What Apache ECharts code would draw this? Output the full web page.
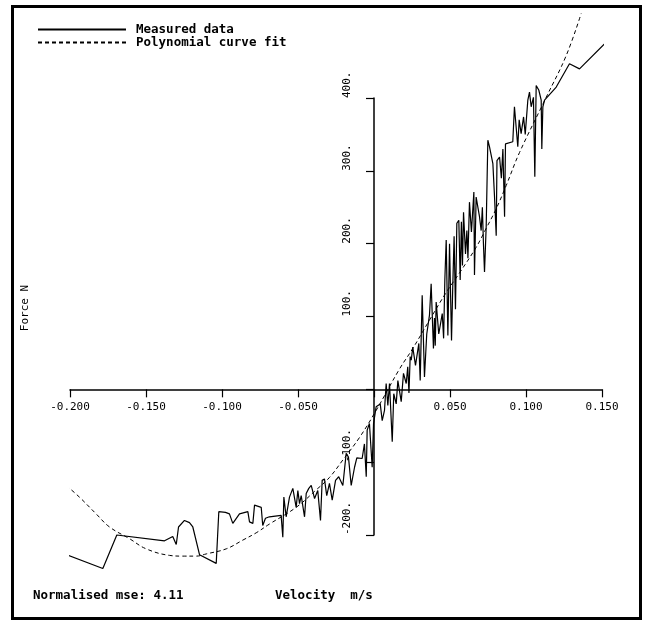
<!DOCTYPE html>
<html>
<head>
<meta charset="utf-8">
<script src="https://cdn.jsdelivr.net/npm/echarts@6/dist/echarts.min.js"></script>
<style>
  html, body { margin: 0; padding: 0; background: #fff; }
  #chart { width: 650px; height: 622px; }
</style>
</head>
<body>
<div id="chart"></div>
<script>
// Measured force-velocity record (velocity in m/s, force in N)
const measuredVelocity = [
  -0.2025, -0.1784, -0.1692, -0.1378, -0.1324, -0.1301, -0.1286, -0.1247, -0.1214, -0.1192,
  -0.1148, -0.1038, -0.1021, -0.0977, -0.0951, -0.0929, -0.0885, -0.0830, -0.0819, -0.0797,
  -0.0786, -0.0775, -0.0742, -0.0732, -0.0714, -0.0688, -0.0611, -0.0600, -0.0593, -0.0578,
  -0.0556, -0.0534, -0.0512, -0.0501, -0.0490, -0.0479, -0.0457, -0.0446, -0.0429, -0.0413,
  -0.0391, -0.0370, -0.0352, -0.0341, -0.0326, -0.0311, -0.0293, -0.0275, -0.0253, -0.0232,
  -0.0205, -0.0183, -0.0168, -0.0150, -0.0128, -0.0113, -0.0078, -0.0063, -0.0051, -0.0045,
  -0.0030, -0.0012, -0.0003, 0.0014, 0.0041, 0.0054, 0.0069, 0.0080, 0.0091, 0.0102,
  0.0120, 0.0130, 0.0146, 0.0157, 0.0179, 0.0194, 0.0212, 0.0222, 0.0230, 0.0238,
  0.0245, 0.0255, 0.0273, 0.0295, 0.0304, 0.0317, 0.0332, 0.0347, 0.0365, 0.0376,
  0.0391, 0.0398, 0.0403, 0.0409, 0.0426, 0.0449, 0.0458, 0.0466, 0.0475, 0.0486,
  0.0497, 0.0510, 0.0518, 0.0527, 0.0536, 0.0545, 0.0558, 0.0567, 0.0575, 0.0582,
  0.0589, 0.0602, 0.0611, 0.0618, 0.0628, 0.0641, 0.0657, 0.0661, 0.0672, 0.0694,
  0.0705, 0.0713, 0.0720, 0.0727, 0.0738, 0.0749, 0.0760, 0.0782, 0.0793, 0.0804,
  0.0809, 0.0826, 0.0838, 0.0848, 0.0859, 0.0865, 0.0913, 0.0924, 0.0946, 0.0955,
  0.0968, 0.0984, 0.0995, 0.1012, 0.1023, 0.1034, 0.1049, 0.1058, 0.1067, 0.1084,
  0.1100, 0.1104, 0.1111, 0.1122, 0.1199, 0.1286, 0.1352, 0.1582
];
const measuredForce = [
  -227, -246, -200, -208, -202, -213, -189, -180, -183, -189,
  -227, -239, -168, -169, -171, -184, -171, -168, -182, -184,
  -159, -161, -162, -187, -177, -175, -173, -203, -148, -175,
  -148, -136, -162, -139, -157, -146, -175, -143, -136, -132,
  -150, -139, -180, -125, -123, -146, -129, -152, -125, -120,
  -132, -88, -93, -132, -107, -94, -95, -75, -120, -56,
  -47, -107, -47, -24, -20, -43, -29, 8, -22, 8,
  -72, -6, -20, 12, -17, 22, 8, 31, -5, 45,
  40, 58, 33, 63, 12, 129, 17, 76, 102, 145,
  56, 98, 60, 120, 76, 104, 70, 150, 205, 74,
  200, 67, 140, 210, 110, 228, 232, 150, 230, 170,
  243, 186, 218, 180, 257, 216, 271, 157, 264, 237,
  218, 250, 200, 161, 223, 342, 333, 310, 264, 211,
  314, 319, 290, 330, 237, 337, 340, 388, 333, 370,
  351, 374, 350, 397, 408, 388, 401, 292, 417, 411,
  397, 330, 388, 397, 415, 447, 440, 488
];

// Polynomial curve fit through the same record
const fitVelocity = [
  -0.2025, -0.1938, -0.1828, -0.1740, -0.1609, -0.1499, -0.1345, -0.1258, -0.1170, -0.1104,
  -0.0972, -0.0863, -0.0775, -0.0688, -0.0512, -0.0380, -0.0293, -0.0205, -0.0095, 0.0014,
  0.0168, 0.0255, 0.0365, 0.0475, 0.0563, 0.0672, 0.0738, 0.0804, 0.0870, 0.0957,
  0.1133, 0.1264, 0.1363
];
const fitForce = [
  -132, -148, -171, -189, -205, -219, -228, -229, -229, -226,
  -219, -207, -197, -185, -162, -138, -121, -97, -66, -29,
  28, 56, 95, 133, 160, 195, 221, 248, 280, 325,
  401, 458, 516
];

const seriesNames = ['Measured data', 'Polynomial curve fit'];
const mseText = 'Normalised mse: 4.11';
const xTitle = 'Velocity  m/s';
const yTitle = 'Force N';

const FONT = 'DejaVu Sans Mono';

// Axis ranges
const X_MIN = -0.2, X_MAX = 0.15, X_STEP = 0.05;
const Y_MIN = -200, Y_MAX = 400, Y_STEP = 100;

// Plot box
const GRID = { left: 70, top: 98, width: 532, height: 437 };

// Both axes cross at the origin: shift them inward from the grid edges
const yAxisShift = -GRID.width * (0 - X_MIN) / (X_MAX - X_MIN);
const xAxisShift = -GRID.height * (0 - Y_MIN) / (Y_MAX - Y_MIN);

const pairs = (xs, ys) => xs.map((x, i) => [x, ys[i]]);

const chart = echarts.init(document.getElementById('chart'), null, { renderer: 'canvas' });

chart.setOption({
  animation: false,
  backgroundColor: '#ffffff',
  grid: Object.assign({ containLabel: false }, GRID),
  legend: {
    orient: 'vertical',
    left: 37,
    top: 23,
    padding: 0,
    itemGap: 0,
    itemWidth: 88,
    itemHeight: 8,
    data: seriesNames,
    itemStyle: { color: 'rgba(0,0,0,0)', borderWidth: 0, opacity: 0 },
    textStyle: {
      fontFamily: FONT, fontSize: 12.5, fontWeight: 'bold', color: '#000',
      lineHeight: 11, padding: [0, 0, 0, 5]
    }
  },
  xAxis: {
    type: 'value',
    position: 'bottom',
    offset: xAxisShift,
    min: X_MIN, max: X_MAX, interval: X_STEP,
    axisLine: { onZero: false, lineStyle: { color: '#000', width: 1.5 } },
    axisTick: { show: true, length: 8, lineStyle: { color: '#000', width: 1.2 } },
    splitLine: { show: false },
    axisLabel: {
      margin: 12,
      fontFamily: FONT, fontSize: 11, color: '#000',
      formatter: v => Math.abs(v) < 1e-9 ? '' : v.toFixed(3)
    }
  },
  yAxis: {
    type: 'value',
    position: 'left',
    offset: yAxisShift,
    min: Y_MIN, max: Y_MAX, interval: Y_STEP,
    axisLine: { onZero: false, lineStyle: { color: '#000', width: 1.5 } },
    axisTick: { show: true, length: 8, lineStyle: { color: '#000', width: 1.2 } },
    splitLine: { show: false },
    axisLabel: {
      rotate: 90,
      margin: 27,
      align: 'left',
      verticalAlign: 'middle',
      fontFamily: FONT, fontSize: 11, color: '#000',
      formatter: v => Math.abs(v) < 1e-9 ? '' : Math.round(v) + '.'
    }
  },
  series: [
    {
      name: seriesNames[0],
      type: 'line',
      data: pairs(measuredVelocity, measuredForce),
      showSymbol: false,
      symbol: 'none',
      clip: false,
      lineStyle: { color: '#000', width: 1.2 },
      itemStyle: { color: '#000' },
      z: 3
    },
    {
      name: seriesNames[1],
      type: 'line',
      data: pairs(fitVelocity, fitForce),
      showSymbol: false,
      symbol: 'none',
      smooth: 0.4,
      clip: false,
      lineStyle: { color: '#000', width: 1, type: [4, 3] },
      itemStyle: { color: '#000' },
      z: 2
    }
  ],
  graphic: [
    {
      type: 'rect',
      shape: { x: 12.5, y: 6.5, width: 628, height: 612 },
      style: { fill: 'none', stroke: '#000', lineWidth: 3 },
      silent: true
    },
    {
      type: 'text',
      left: 33, top: 589,
      style: { text: mseText, font: 'bold 12.5px "DejaVu Sans Mono"', fill: '#000' }
    },
    {
      type: 'text',
      left: 275, top: 589,
      style: { text: xTitle, font: 'bold 12.5px "DejaVu Sans Mono"', fill: '#000' }
    },
    {
      type: 'text',
      x: 25, y: 308,
      rotation: Math.PI / 2,
      style: {
        text: yTitle, font: '11px "DejaVu Sans Mono"', fill: '#000',
        align: 'center', verticalAlign: 'middle'
      }
    }
  ]
});
</script>
</body>
</html>
